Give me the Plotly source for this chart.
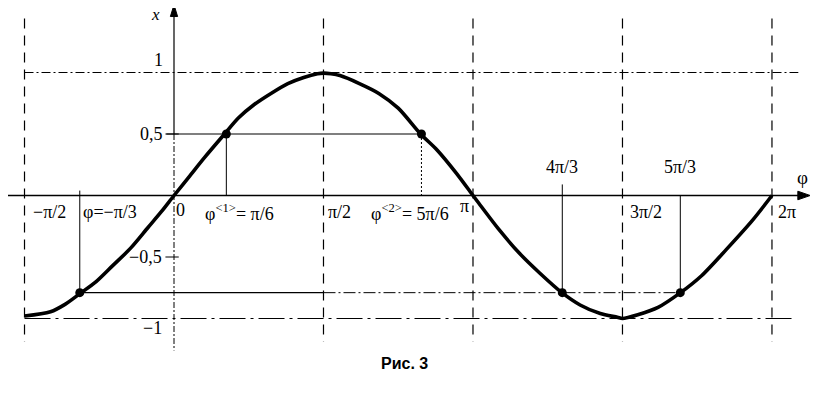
import math
import plotly.graph_objects as go

# ---- data ----
phi_curve = [-1.571, -1.298, -1.145, -0.993, -0.818, -0.644, -0.458, -0.273, -0.131, 0.0,
             0.156, 0.322, 0.531, 0.676, 0.843, 1.019, 1.196, 1.363, 1.508, 1.571,
             1.650, 1.744, 1.948, 2.152, 2.356, 2.591, 2.764, 2.968, 3.142,
             3.205, 3.418, 3.630, 3.842, 4.076, 4.267, 4.479, 4.659, 4.712,
             4.873, 5.086, 5.322, 5.546, 5.802, 6.080, 6.283]
x_curve = [-0.98, -0.945, -0.885, -0.80, -0.70, -0.57, -0.43, -0.26, -0.13, 0.0,
           0.15, 0.31, 0.50, 0.63, 0.74, 0.83, 0.91, 0.96, 0.99, 0.995,
           0.99, 0.975, 0.91, 0.83, 0.71, 0.50, 0.37, 0.18, 0.0,
           -0.065, -0.28, -0.47, -0.63, -0.79, -0.89, -0.96, -0.99, -1.0,
           -0.97, -0.91, -0.79, -0.65, -0.44, -0.20, 0.0]

point_phi = [-0.99, 0.55, 2.60, 4.08, 5.32]
point_x = [-0.79, 0.5, 0.5, -0.79, -0.79]

grid_phi = [-math.pi / 2, math.pi / 2, math.pi, 3 * math.pi / 2, 2 * math.pi]
level_one = 1.0
level_half = 0.5
level_low = -0.79
level_min = -1.0
tick_vals = [1.0, 0.5, -0.5, -1.0]
tick_text = ["1", "0,5", "−0,5", "−1"]

# ---- axis ranges (pixel fit; page body has an 8px margin, avoid overflow) ----
OFF = 8
PX = 95.17      # px per radian
X0 = 174 - OFF  # plot px of phi=0
PY = 123.0      # px per unit
Y0 = 195.5 - OFF
W, H = 818 - 2 * OFF, 397 - 2 * OFF
xr = [-X0 / PX, (W - X0) / PX]
yr = [(Y0 - H) / PY, Y0 / PY]

fig = go.Figure()

shapes = []
BL = "black"

def seg(x0, y0, x1, y1, width=1, dash="solid", color=BL):
    shapes.append(dict(type="line", x0=x0, y0=y0, x1=x1, y1=y1, xref="x", yref="y",
                       line=dict(color=color, width=width, dash=dash), layer="below"))

# vertical dashed lines
for g in grid_phi:
    seg(g, 1.44, g, -1.19, width=1.2, dash="10px,7px")

# horizontal guides
seg(grid_phi[0], level_one, 6.56, level_one, width=1, dash="9px,3px,2px,3px")
seg(grid_phi[0], level_min, 6.54, level_min, width=1.1, dash="26px,5px,3px,5px")
seg(point_phi[0], level_low, math.pi / 2, level_low, width=1.1)
seg(math.pi / 2, level_low, point_phi[4], level_low, width=1, dash="12px,3px,2px,3px")
seg(-0.08, level_half, point_phi[2], level_half, width=1.2)

# drops from points
seg(point_phi[1], level_half, point_phi[1], 0, width=1)
seg(point_phi[2], level_half, point_phi[2], 0, width=1, dash="2px,2px")
seg(point_phi[0], level_low, point_phi[0], 0.04, width=1)
seg(point_phi[3], level_low, point_phi[3], 0.09, width=1)
seg(point_phi[4], level_low, point_phi[4], 0.0, width=1)

# axes
seg(xr[0], 0, 6.56, 0, width=1.3)
seg(0, level_half, 0, 1.46, width=1.2)
seg(0, level_half, 0, -1.26, width=1, dash="6px,2px,2px,2px")
for tv in [0.5, -0.5]:
    seg(-0.09, tv, 0.05, tv, width=1)

# arrowheads
shapes.append(dict(type="path", xref="x", yref="y",
                   path="M 6.685,0 L 6.555,0.035 L 6.555,-0.035 Z",
                   fillcolor=BL, line=dict(color=BL, width=1)))
shapes.append(dict(type="path", xref="x", yref="y",
                   path="M 0,1.55 L -0.038,1.455 L 0.038,1.455 Z",
                   fillcolor=BL, line=dict(color=BL, width=1)))

fig.add_trace(go.Scatter(x=phi_curve, y=x_curve, mode="lines",
                         line=dict(color=BL, width=3.6, shape="spline", smoothing=0.8),
                         hoverinfo="skip", showlegend=False))
fig.add_trace(go.Scatter(x=point_phi, y=point_x, mode="markers",
                         marker=dict(color=BL, size=9), hoverinfo="skip", showlegend=False))

SERIF = "Liberation Serif"
ann = []

def label(text, x, y, xanchor="left", size=18, italic=False, yanchor="middle"):
    ann.append(dict(text=f"<i>{text}</i>" if italic else text, x=x, y=y, xref="x", yref="y",
                    xanchor=xanchor, yanchor=yanchor, showarrow=False,
                    font=dict(family=SERIF, size=size, color=BL)))

# y tick labels
label(tick_text[0], -0.095, 1.10, "right")
label(tick_text[1], -0.095, tick_vals[1], "right")
label(tick_text[2], -0.10, tick_vals[2], "right")
label(tick_text[3], -0.11, -1.08, "right")
label("x", -0.19, (Y0 - 6) / PY, "center", size=17, italic=True)

# phi labels
label("−π/2", -1.50, -0.135)
label("φ=−π/3", -0.975, -0.135)
label("0", 0.0, -0.115)
label("φ<sup>&lt;1&gt;</sup>= π/6", 0.30, -0.135)
label("π/2", 1.60, -0.135)
label("φ<sup>&lt;2&gt;</sup>= 5π/6", 2.05, -0.135)
label("π", 2.98, -0.085)
label("4π/3", 4.08, 0.23, "center")
label("5π/3", 5.32, 0.23, "center")
label("3π/2", 4.77, -0.135)
label("2π", 6.33, -0.135)
label("φ", xr[1], 0.145, "right", size=19)

ann.append(dict(text="<b>Рис. 3</b>", x=(404 - OFF) / W, y=1 - (363 - OFF) / H,
                xref="paper", yref="paper",
                xanchor="center", yanchor="middle", showarrow=False,
                font=dict(family="Liberation Sans", size=16, color=BL)))

fig.update_layout(
    width=W, height=H, autosize=False,
    margin=dict(l=0, r=0, t=0, b=0),
    paper_bgcolor="white", plot_bgcolor="white",
    xaxis=dict(range=xr, visible=False, fixedrange=True),
    yaxis=dict(range=yr, visible=False, fixedrange=True),
    shapes=shapes, annotations=ann, showlegend=False,
)

fig.write_html("out.html")
